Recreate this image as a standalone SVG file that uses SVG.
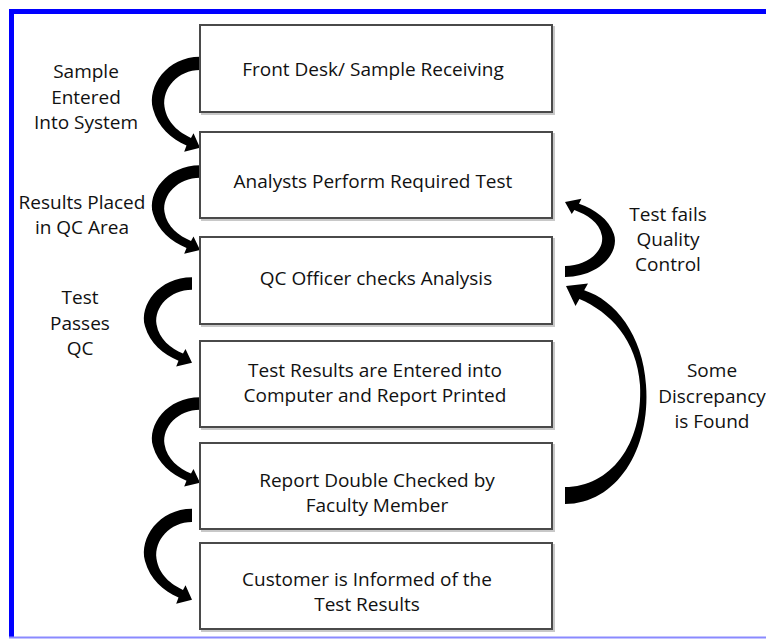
<svg xmlns="http://www.w3.org/2000/svg" xmlns:xlink="http://www.w3.org/1999/xlink" width="766" height="639" viewBox="0 0 766 639">
  <style>
    .box { fill: #ffffff; stroke: #4a4a4a; stroke-width: 2; }
    .shadow { fill: none; stroke: #c8c8c8; stroke-width: 2; }
    .t { font-family: "Open Sans", "Liberation Sans", sans-serif; font-size: 19px; fill: #111111; text-anchor: middle; }
    .arr { fill: #000000; }
  </style>
  <defs>
    <path id="larrow" d="M 0 -7 C -33 -7 -53 22 -47 44 C -42 62 -29 73 -13.5 80 L -15.8 86 L 0 82 L -6.5 67.8 L -9 72.5 C -21 67 -33 58 -35.5 42 C -38 24 -22 6 0 6 Z"/>
  </defs>
  <rect x="0" y="0" width="766" height="639" fill="#ffffff"/>
  <g id="frame">
    <line x1="9" y1="11.5" x2="766" y2="11.5" stroke="#0000ff" stroke-width="5"/>
    <line x1="11.5" y1="9" x2="11.5" y2="637" stroke="#0000ff" stroke-width="5"/>
    <line x1="9" y1="637.5" x2="766" y2="637.5" stroke="#8a8aff" stroke-width="2"/>
  </g>

  <g id="connectors">
    <use xlink:href="#larrow" href="#larrow" class="arr" transform="translate(200,64) scale(1,1.02)"/>
    <use xlink:href="#larrow" href="#larrow" class="arr" transform="translate(200,172) scale(1,0.95)"/>
    <use xlink:href="#larrow" href="#larrow" class="arr" transform="translate(192,284) scale(1,0.96)"/>
    <use xlink:href="#larrow" href="#larrow" class="arr" transform="translate(200,404) scale(1,0.96)"/>
    <use xlink:href="#larrow" href="#larrow" class="arr" transform="translate(192,516) scale(1,1.02)"/>
    <use xlink:href="#larrow" href="#larrow" class="arr" transform="translate(565,271) scale(-1.04,-0.84)"/>
    <path class="arr" d="M 565 504 C 616 504 651 450 646 385 C 643 335 615 300 584.2 290.2 L 588 283.5 L 566 286 L 575.5 306 L 579.4 299 C 610 312 637 340 640 385 C 643 445 610 487 565 487 Z"/>
  </g>

  <g id="label-sample-entered">
    <text class="t" x="86" y="78">Sample</text>
    <text class="t" x="86" y="104">Entered</text>
    <text class="t" x="86" y="129">Into System</text>
  </g>
  <g id="label-results-placed">
    <text class="t" x="82" y="209">Results Placed</text>
    <text class="t" x="82" y="234">in QC Area</text>
  </g>
  <g id="label-test-passes">
    <text class="t" x="80" y="304">Test</text>
    <text class="t" x="80" y="330">Passes</text>
    <text class="t" x="80" y="355">QC</text>
  </g>
  <g id="label-test-fails">
    <text class="t" x="668" y="221">Test fails</text>
    <text class="t" x="668" y="246">Quality</text>
    <text class="t" x="668" y="271">Control</text>
  </g>
  <g id="label-discrepancy">
    <text class="t" x="712" y="377">Some</text>
    <text class="t" x="712" y="403">Discrepancy</text>
    <text class="t" x="712" y="428">is Found</text>
  </g>

  <g id="node-front-desk">
    <rect class="shadow" x="202" y="27" width="352" height="87"/>
    <rect class="box" x="200" y="25" width="352" height="87"/>
    <text class="t" x="373" y="76">Front Desk/ Sample Receiving</text>
  </g>
  <g id="node-analysts">
    <rect class="shadow" x="202" y="134" width="352" height="86"/>
    <rect class="box" x="200" y="132" width="352" height="86"/>
    <text class="t" x="373" y="188">Analysts Perform Required Test</text>
  </g>
  <g id="node-qc-officer">
    <rect class="shadow" x="202" y="239" width="352" height="87"/>
    <rect class="box" x="200" y="237" width="352" height="87"/>
    <text class="t" x="376" y="285">QC Officer checks Analysis</text>
  </g>
  <g id="node-results-entered">
    <rect class="shadow" x="202" y="343" width="352" height="86"/>
    <rect class="box" x="200" y="341" width="352" height="86"/>
    <text class="t" x="375" y="377">Test Results are Entered into</text>
    <text class="t" x="375" y="402">Computer and Report Printed</text>
  </g>
  <g id="node-double-checked">
    <rect class="shadow" x="202" y="445" width="352" height="86"/>
    <rect class="box" x="200" y="443" width="352" height="86"/>
    <text class="t" x="377" y="487">Report Double Checked by</text>
    <text class="t" x="377" y="512">Faculty Member</text>
  </g>
  <g id="node-customer">
    <rect class="shadow" x="202" y="545" width="352" height="86"/>
    <rect class="box" x="200" y="543" width="352" height="86"/>
    <text class="t" x="367" y="586">Customer is Informed of the</text>
    <text class="t" x="367" y="611">Test Results</text>
  </g>
</svg>
